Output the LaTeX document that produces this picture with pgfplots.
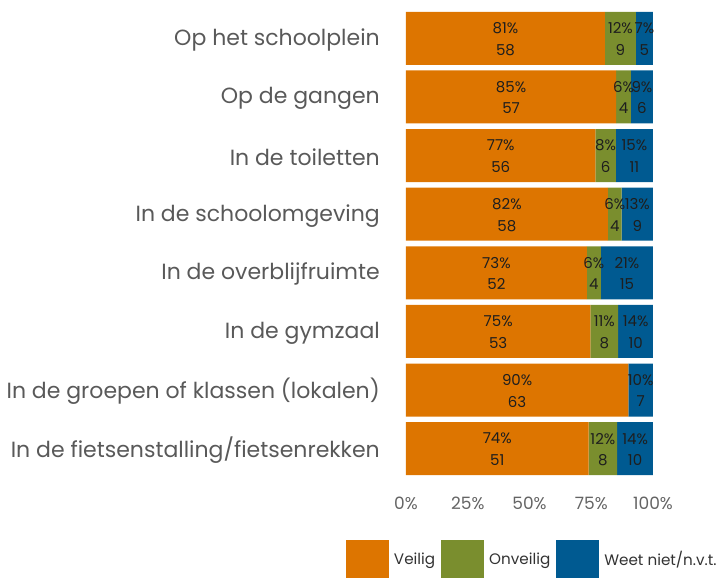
\documentclass[border=0pt]{standalone}
\usepackage{pgfplots}
\usepackage{pgfplotstable}
\pgfplotsset{compat=1.18}
\usepackage{fontspec}
\setmainfont{Poppins}
\definecolor{veilig}{RGB}{221,117,0}
\definecolor{onveilig}{RGB}{122,142,46}
\definecolor{weet}{RGB}{0,90,145}
\definecolor{cattext}{RGB}{89,89,89}
\definecolor{legtext}{RGB}{50,50,50}
\definecolor{ticktext}{RGB}{100,100,100}
\definecolor{bartext}{RGB}{30,30,30}
\pgfplotsset{/pgf/number format/assume math mode=true}

% bar segments (share of respondents, %)
\pgfplotstableread{
y veilig onveilig weet
7 80.56 12.50 6.94
6 85.07 5.97 8.96
5 76.71 8.22 15.07
4 81.69 5.63 12.68
3 73.24 5.63 21.13
2 74.65 11.27 14.08
1 90.00 0.00 10.00
0 73.91 11.59 14.50
}\bars

% labels: x = centre of segment, p = percent shown, n = count
\pgfplotstableread{
y x p n
7 40.28 81 58
7 86.81 12 9
7 96.53 7 5
6 42.54 85 57
6 88.06 6 4
6 95.52 9 6
5 38.36 77 56
5 80.82 8 6
5 92.47 15 11
4 40.85 82 58
4 84.51 6 4
4 93.66 13 9
3 36.62 73 52
3 76.06 6 4
3 89.44 21 15
2 37.32 75 53
2 80.28 11 8
2 92.96 14 10
1 45.00 90 63
1 95.00 10 7
0 36.96 74 51
0 79.71 12 8
0 92.75 14 10
}\labels

\pgfplotsset{
  base/.style={
    scale only axis, width=247bp, height=469bp,
    xmin=0, xmax=100, ymin=-0.5, ymax=7.5,
    axis line style={draw=none}, tick style={draw=none},
  },
}

\begin{document}
\begin{tikzpicture}
\begin{axis}[base, name=main,
  xbar stacked, bar width=53bp,
  ytick={0,...,7},
  yticklabels={In de fietsenstalling/fietsenrekken,
    In de groepen of klassen (lokalen),
    In de gymzaal,
    In de overblijfruimte,
    In de schoolomgeving,
    In de toiletten,
    Op de gangen,
    Op het schoolplein},
  yticklabel style={font=\fontsize{22bp}{26bp}\selectfont, text=cattext, inner sep=0pt, xshift=-26bp, yshift=-1.5bp},
  xtick={0,25,50,75,100},
  xticklabels={0\%,25\%,50\%,75\%,100\%},
  xticklabel style={font=\fontsize{17bp}{20bp}\selectfont, text=ticktext, inner sep=0pt, anchor=base, yshift=-32bp},
  legend columns=3,
  legend style={at={(-0.2429,-0.2132)}, anchor=south west, draw=none, fill=none,
    inner sep=0pt, outer sep=0pt,
    font=\fontsize{15.2bp}{18bp}\selectfont, text=legtext,
    nodes={inner sep=0pt},
    /tikz/every odd column/.style={column sep=5bp},
    /tikz/every even column/.style={column sep=6bp}},
  legend image code/.code={\fill[#1] (0bp,-19bp) rectangle (43bp,19bp);},
]
\addplot[fill=veilig, draw=none] table[x=veilig, y=y] {\bars};
\addplot[fill=onveilig, draw=none] table[x=onveilig, y=y] {\bars};
\addplot[fill=weet, draw=none] table[x=weet, y=y] {\bars};
\legend{Veilig, Onveilig, Weet niet/n.v.t.}
\end{axis}
\begin{axis}[base, xtick=\empty, ytick=\empty]
\addplot[draw=none, mark=none, point meta=explicit,
  nodes near coords={\pgfmathprintnumber{\pgfplotspointmeta}\%},
  nodes near coords style={anchor=center, yshift=10bp, inner sep=0pt,
    font=\fontsize{15bp}{18bp}\selectfont, text=bartext}]
  table[x=x, y=y, meta=p] {\labels};
\addplot[draw=none, mark=none, point meta=explicit,
  nodes near coords={\pgfmathprintnumber{\pgfplotspointmeta}},
  nodes near coords style={anchor=center, yshift=-11.5bp, inner sep=0pt,
    font=\fontsize{15bp}{18bp}\selectfont, text=bartext}]
  table[x=x, y=y, meta=n] {\labels};
\end{axis}
\pgfresetboundingbox
\path[use as bounding box] ([xshift=-406bp,yshift=-100bp]main.south west) rectangle ([xshift=64bp,yshift=9bp]main.north east);
\end{tikzpicture}
\end{document}
